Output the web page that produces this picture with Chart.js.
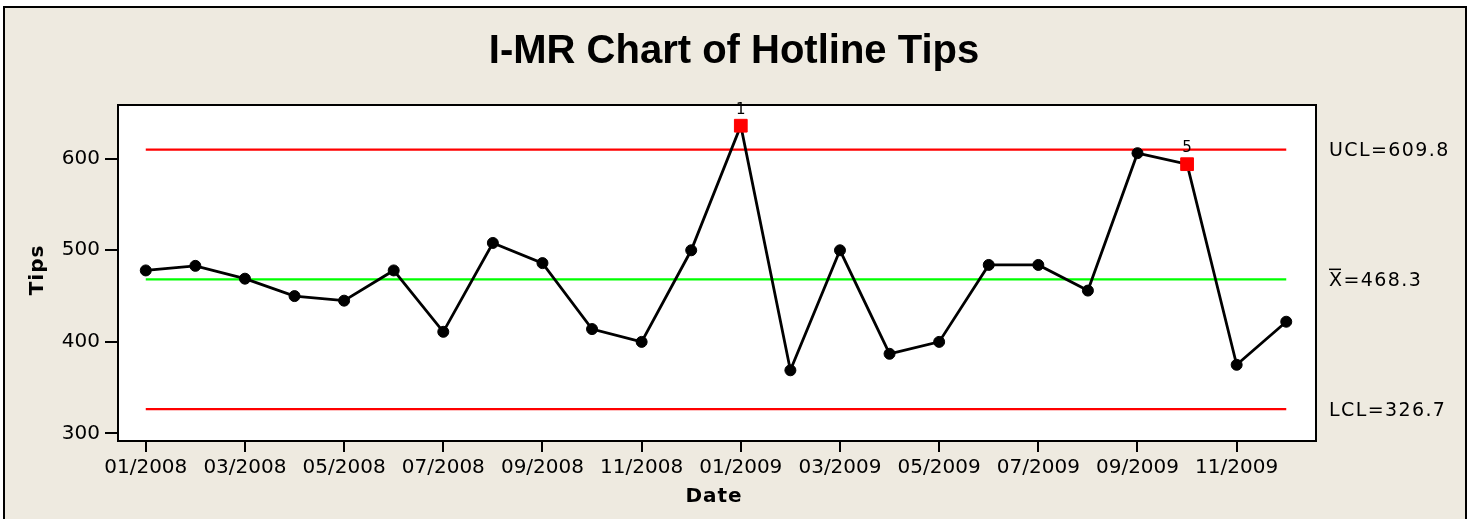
<!DOCTYPE html>
<html>
<head>
<meta charset="utf-8">
<script src="https://cdn.jsdelivr.net/npm/chart.js@4"></script>
<style>
  html, body { margin: 0; padding: 0; background: #fff; overflow: hidden; }
  #frame {
    position: absolute; left: 3px; top: 6px; width: 1460px; height: 540px;
    background: #eeeae0; border: 2px solid #000;
  }
  #c { position: absolute; left: 0; top: 0; }
</style>
</head>
<body>
<div id="frame"></div>
<canvas id="c" width="1474" height="519"></canvas>
<script>
// datos
const months = ['01/2008','02/2008','03/2008','04/2008','05/2008','06/2008','07/2008','08/2008',
                '09/2008','10/2008','11/2008','12/2008','01/2009','02/2009','03/2009','04/2009',
                '05/2009','06/2009','07/2009','08/2009','09/2009','10/2009','11/2009','12/2009'];
const tips = [478, 483, 469, 450, 445, 478, 411, 508, 486, 414, 400, 500,
              636, 369, 500, 387, 400, 484, 484, 456, 606, 594, 375, 422];
const ucl = 609.8;
const mean = 468.3;
const lcl = 326.7;
const outlierIdx = [12, 21];
const outlierTags = ['1', '5'];
const xTicks = [0, 2, 4, 6, 8, 10, 12, 14, 16, 18, 20, 22];
const yTicks = [300, 400, 500, 600];

const last = tips.length - 1;
const limitLine = v => [{x: 0, y: v}, {x: last, y: v}];
const isOut = ctx => outlierIdx.includes(ctx.dataIndex);

// textos: título, ejes, límites
const textPlugin = {
  id: 'texts',
  beforeDatasetsDraw(chart) {
    const a = chart.chartArea, ctx = chart.ctx;
    ctx.save();
    ctx.fillStyle = '#fff';
    ctx.fillRect(a.left, a.top, a.right - a.left, a.bottom - a.top);
    ctx.restore();
  },
  afterDraw(chart) {
    const a = chart.chartArea, ctx = chart.ctx;
    const y = chart.scales.y;
    ctx.save();
    ctx.strokeStyle = '#000';
    ctx.lineWidth = 2;
    ctx.strokeRect(a.left, a.top, a.right - a.left, a.bottom - a.top);

    ctx.fillStyle = '#000';
    ctx.textAlign = 'center';
    ctx.textBaseline = 'middle';
    ctx.font = 'bold 40px "Liberation Sans"';
    ctx.fillText('I-MR Chart of Hotline Tips', 734, 52);

    ctx.font = 'bold 20px "DejaVu Sans"';
    ctx.letterSpacing = '1px';
    ctx.fillText('Date', 714, 497);
    ctx.save();
    ctx.translate(38, 270);
    ctx.rotate(-Math.PI / 2);
    ctx.fillText('Tips', 0, 0);
    ctx.restore();

    ctx.font = '19px "DejaVu Sans"';
    ctx.letterSpacing = '1.4px';
    ctx.textAlign = 'left';
    ctx.fillText('UCL=' + ucl.toFixed(1), 1329, y.getPixelForValue(ucl) + 1);
    ctx.fillText('LCL=' + lcl.toFixed(1), 1329, y.getPixelForValue(lcl) + 2);
    const my = y.getPixelForValue(mean) + 2;
    ctx.fillText('X=' + mean.toFixed(1), 1329, my);
    ctx.lineWidth = 1.5;
    ctx.beginPath();
    ctx.moveTo(1329, my - 12);
    ctx.lineTo(1341, my - 12);
    ctx.stroke();

    ctx.letterSpacing = '0px';
    ctx.font = '15px "DejaVu Sans"';
    ctx.textAlign = 'center';
    const meta = chart.getDatasetMeta(0);
    outlierIdx.forEach((i, k) => {
      const p = meta.data[i];
      ctx.fillText(outlierTags[k], p.x, p.y - 16);
    });
    ctx.restore();
  }
};

new Chart(document.getElementById('c'), {
  type: 'line',
  data: {
    datasets: [
      {
        data: tips.map((v, i) => ({x: i, y: v})),
        borderColor: '#000',
        borderWidth: 2.8,
        pointStyle: ctx => isOut(ctx) ? 'rect' : 'circle',
        pointRadius: ctx => isOut(ctx) ? 9 : 5.5,
        pointBackgroundColor: ctx => isOut(ctx) ? '#ff0000' : '#000',
        pointBorderColor: ctx => isOut(ctx) ? '#ff0000' : '#000',
        pointBorderWidth: 1,
        tension: 0
      },
      { data: limitLine(ucl), borderColor: '#ff0000', borderWidth: 2.3, pointRadius: 0 },
      { data: limitLine(mean), borderColor: '#00ff00', borderWidth: 2.3, pointRadius: 0 },
      { data: limitLine(lcl), borderColor: '#ff0000', borderWidth: 2.3, pointRadius: 0 }
    ]
  },
  options: {
    responsive: false,
    devicePixelRatio: 1,
    animation: false,
    layout: { padding: { left: 0, right: 158, top: 105, bottom: 0 } },
    plugins: { legend: { display: false }, tooltip: { enabled: false }, title: { display: false } },
    scales: {
      x: {
        type: 'linear',
        min: -0.56,
        max: 23.6,
        afterFit: s => { s.height = 78; },
        afterBuildTicks: s => { s.ticks = xTicks.map(v => ({value: v})); },
        border: { display: false },
        grid: { drawOnChartArea: false, drawTicks: true, tickLength: 11, color: '#000', lineWidth: 2 },
        ticks: {
          autoSkip: false, maxRotation: 0, padding: 4, color: '#000',
          font: { family: 'DejaVu Sans', size: 20 },
          callback: v => months[v]
        }
      },
      y: {
        min: 291.8,
        max: 658.6,
        afterFit: s => { s.width = 118; },
        afterBuildTicks: s => { s.ticks = yTicks.map(v => ({value: v})); },
        border: { display: false },
        grid: { drawOnChartArea: false, drawTicks: true, tickLength: 13, color: '#000', lineWidth: 2 },
        ticks: {
          padding: 5, color: '#000',
          font: { family: 'DejaVu Sans', size: 20 }
        }
      }
    }
  },
  plugins: [textPlugin]
});
</script>
</body>
</html>
